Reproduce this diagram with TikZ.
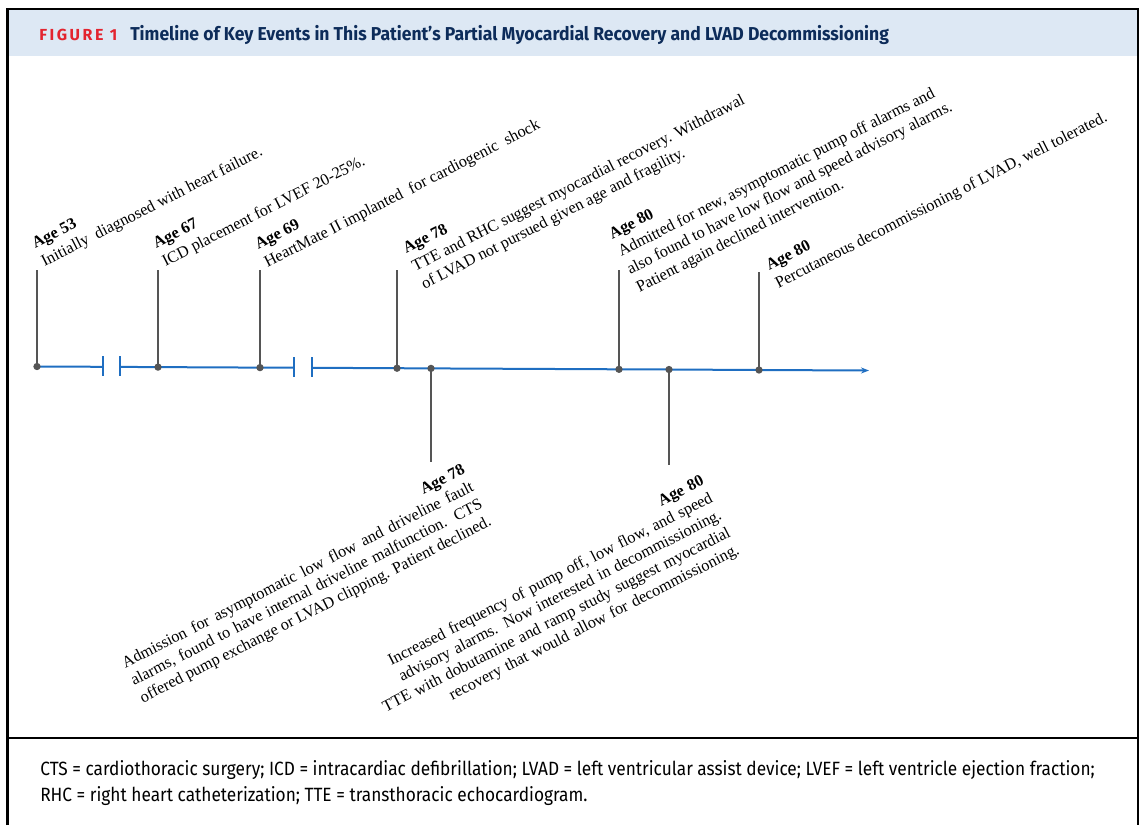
\documentclass[tikz,border=0pt]{standalone}
\usepackage{fontspec}
\setmainfont{Liberation Serif}
\newfontfamily\headfont[FakeStretch=0.94]{Fira Sans}
\newfontfamily\figfont[LetterSpace=16]{Fira Sans}
\newfontfamily\notefont[FakeStretch=0.9]{Fira Sans}
\usetikzlibrary{arrows.meta}
\definecolor{headbg}{HTML}{DDE8F4}
\definecolor{figred}{HTML}{E3242F}
\definecolor{navy}{HTML}{0D2C5A}
\definecolor{tlblue}{HTML}{1F6EC1}
\definecolor{stemgray}{HTML}{555555}

\begin{document}
\begin{tikzpicture}[x=0.75pt,y=-0.75pt,
  dot/.style={circle,fill=stemgray,inner sep=0pt,minimum size=5.5pt},
  stem/.style={stemgray,line width=1.5pt},
  tline/.style={tlblue,line width=1.5pt},
  evt/.style={rotate=27,anchor=south west,align=left,inner sep=0pt,font=\fontsize{12.2}{15}\selectfont},
  evtb/.style={rotate=27,anchor=north east,inner sep=0pt,font=\fontsize{12.2}{14.6}\selectfont}]
\useasboundingbox (0,0) rectangle (1142,825);
\fill[headbg] (8,9) rectangle (1138,56);
\draw[line width=2.2pt] (7.5,825) -- (7.5,9) -- (1138,9) -- (1138,825);
\draw[line width=2.2pt] (7.5,738) -- (1138,738);
\node[anchor=base west,inner sep=0pt,text=figred,font=\figfont\bfseries\fontsize{12}{14}\selectfont] (fig) at (39,40) {FIGURE 1};
\node[anchor=base west,inner sep=0pt,text=navy,font=\headfont\bfseries\fontsize{14}{16}\selectfont] (title) at (130,40) {Timeline of Key Events in This Patient’s Partial Myocardial Recovery and LVAD Decommissioning};

\coordinate (t53) at (37,366.5);
\coordinate (t67) at (158,367.1);
\coordinate (t69) at (260,367.6);
\coordinate (t78) at (397,368.2);
\coordinate (t78b) at (431,368.4);
\coordinate (t80) at (619,369.3);
\coordinate (t80b) at (669,369.5);
\coordinate (t80c) at (759,370);
\coordinate (b1l) at (103,366.8);
\coordinate (b1r) at (120,366.9);
\coordinate (b2l) at (294,367.7);
\coordinate (b2r) at (312,367.8);
\coordinate (tend) at (869,370.5);
\draw[tline] (t53) -- (b1l);
\draw[tline] (b1r) -- (t67) -- (t69) -- (b2l);
\draw[tline,-{Stealth[length=6pt,width=4.5pt]}] (b2r) -- (t78) -- (t78b) -- (t80) -- (t80b) -- (t80c) -- (tend);
\foreach \b in {b1l,b1r,b2l,b2r}
  \draw[tline] ([yshift=8pt]\b) -- ([yshift=-7pt]\b);

\coordinate (s53) at (37,270);
\coordinate (s67) at (158,270);
\coordinate (s69) at (260,270);
\coordinate (s78) at (397,270);
\coordinate (s80) at (619,270);
\coordinate (s80c) at (759,272);
\coordinate (s78b) at (431,462);
\coordinate (s80b) at (669,465);
\foreach \n in {53,67,69,78,80,80c,78b,80b}
  \draw[stem] (t\n) -- (s\n);
\foreach \n in {53,67,69,78,78b,80,80b,80c}
  \node[dot] (d\n) at (t\n) {};

\node[evt] (l53) at (46,270) {\textbf{Age 53}\\Initially\ \ diagnosed with heart failure.};
\node[evt] (l67) at (167,270) {\textbf{Age 67}\\ICD placement for LVEF 20-25\%.};
\node[evt] (l69) at (269,271) {\textbf{Age 69}\\HeartMate II implanted\ \ for cardiogenic\ \ shock};
\node[evt] (l78) at (426,293) {\textbf{Age 78}\\TTE and RHC suggest myocardial recovery. Withdrawal\\of LVAD not pursued given age and fragility.};
\node[evt] (l80) at (641,296) {\textbf{Age 80}\\Admitted for new, asymptomatic pump off alarms and\\also found to have low flow and speed advisory alarms.\\Patient again declined intervention.};
\node[evt] (l80c) at (780,292) {\textbf{Age 80}\\Percutaneous decommissioning of LVAD, well tolerated.};
\node[evtb,text width=294pt,align=justify] (l78b) at (461,463) {\hfill\textbf{Age 78}\\Admission for asymptomatic low flow and driveline fault\linebreak alarms, found to have internal driveline malfunction. CTS\linebreak offered pump exchange or LVAD clipping. Patient declined.};
\node[evtb,text width=304pt,align=right] (l80bl) at (700,474) {\textbf{Age 80}\\Increased frequency of pump off, low flow, and speed\\advisory alarms. Now interested in decommissioning.\\TTE with dobutamine and ramp study suggest myocardial\\recovery that would allow for decommissioning.};

\node[anchor=base west,inner sep=0pt,font=\notefont\fontsize{14.4}{19}\selectfont] (note1) at (40,775) {CTS = cardiothoracic surgery; ICD = intracardiac defibrillation; LVAD = left ventricular assist device; LVEF = left ventricle ejection fraction;};
\node[anchor=base west,inner sep=0pt,font=\notefont\fontsize{14.4}{19}\selectfont] (note2) at (40,801) {RHC = right heart catheterization; TTE = transthoracic echocardiogram.};
\end{tikzpicture}
\end{document}
